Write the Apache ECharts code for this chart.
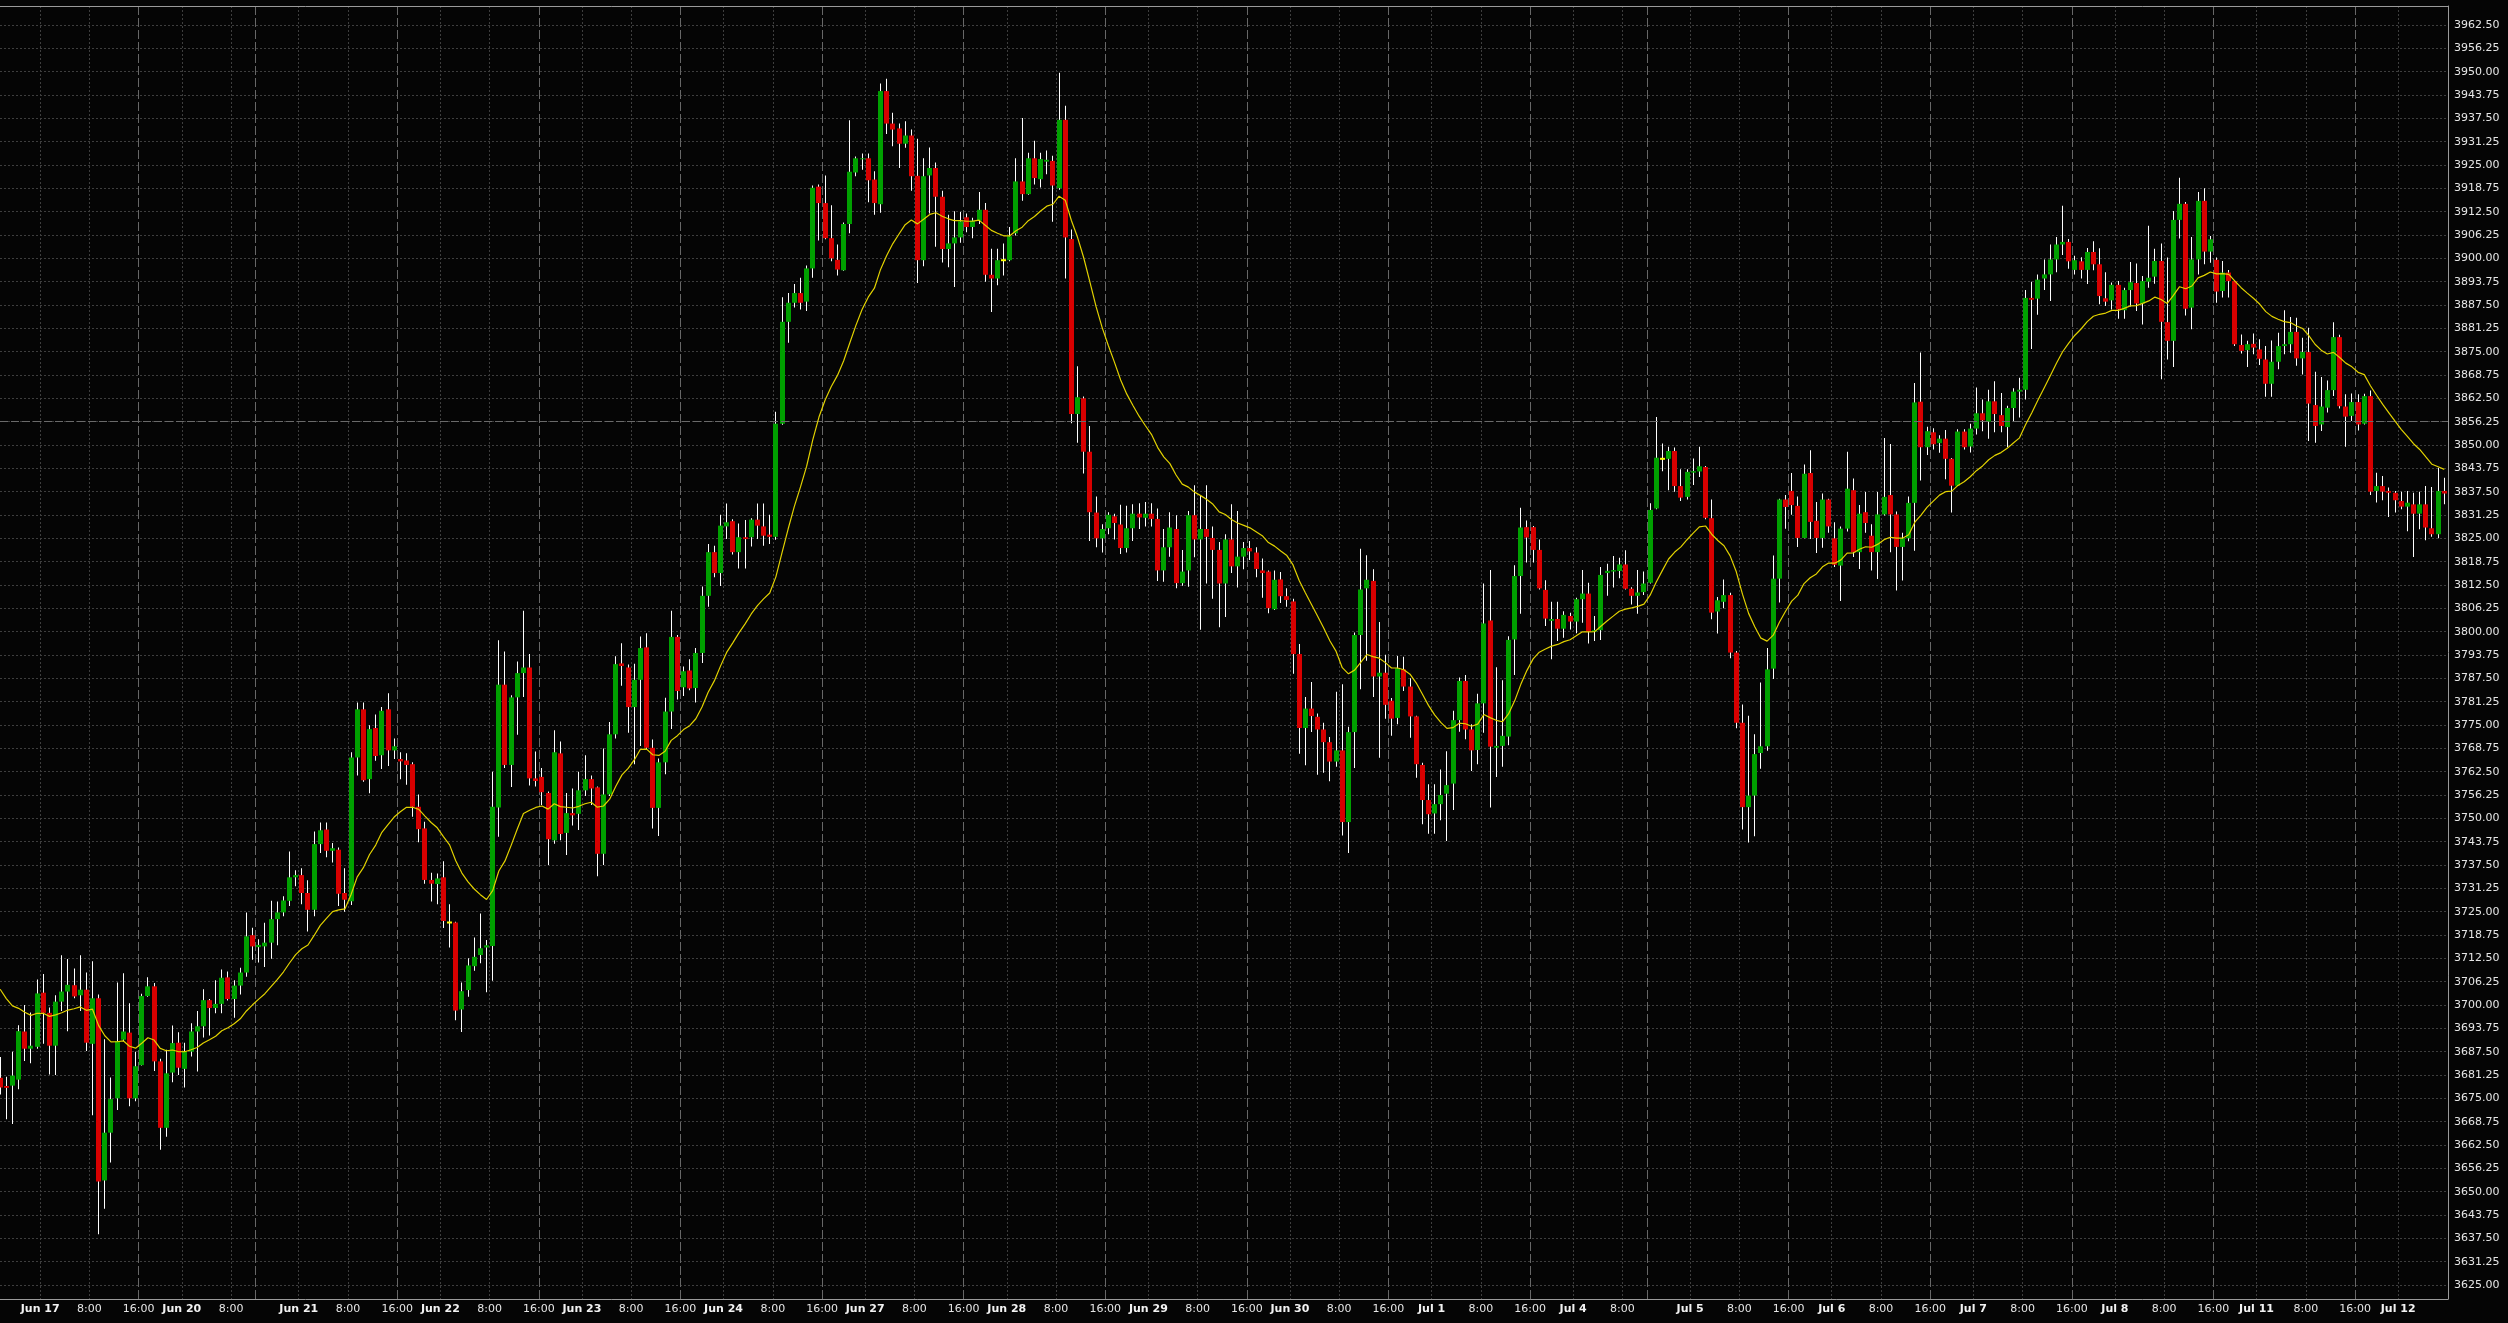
<!DOCTYPE html>
<html>
<head>
<meta charset="utf-8">
<script src="https://cdn.jsdelivr.net/npm/echarts@6/dist/echarts.min.js"></script>
<style>
html,body{margin:0;padding:0;background:#050505;}
#chart{width:2508px;height:1323px;}
</style>
</head>
<body>
<div id="chart"></div>
<script>
// ---- time axis: hourly bars, sessions open 17:00 the evening before each trading day ----
const tradingDays = ['Jun 17','Jun 20','Jun 21','Jun 22','Jun 23','Jun 24','Jun 27','Jun 28','Jun 29','Jun 30',
  'Jul 1','Jul 4','Jul 5','Jul 6','Jul 7','Jul 8','Jul 11','Jul 12'];
const earlyCloseDays = ['Jun 20','Jul 4'];   // halted at 12:00
const finalDayLastHour = 7;                  // chart ends with the 07:00 bar of the last day

// ---- OHLC values (one per hourly bar) ----
const opens = [
3680.5,3678.3,3678.4,3680.0,3692.9,3688.3,3688.8,3703.3,3697.9,3689.1,
3700.9,3703.6,3705.3,3702.6,3704.1,3689.6,3701.8,3653.0,3665.8,3675.0,
3690.7,3692.6,3675.0,3683.9,3702.4,3705.0,3684.9,3667.1,3681.9,3689.9,
3682.9,3687.5,3692.9,3694.3,3701.3,3699.2,3700.3,3707.4,3701.6,3705.2,
3708.7,3718.7,3715.5,3715.7,3716.7,3723.0,3724.8,3727.9,3734.2,3734.8,
3730.0,3725.5,3743.1,3747.0,3741.3,3741.6,3730.0,3727.8,3766.3,3779.2,
3760.5,3774.2,3766.9,3779.2,3768.2,3765.9,3765.5,3764.5,3753.1,3747.3,
3733.5,3732.4,3734.2,3722.1,3722.1,3698.8,3704.0,3710.4,3713.4,3715.4,
3715.8,3752.9,3785.8,3764.3,3782.4,3788.9,3790.4,3760.7,3761.1,3756.8,
3744.1,3767.4,3746.1,3751.4,3751.2,3757.5,3760.5,3758.3,3740.5,3756.4,
3772.5,3791.5,3790.4,3779.8,3787.1,3795.8,3768.9,3752.8,3765.0,3778.6,
3798.6,3785.1,3789.6,3784.9,3794.3,3809.6,3821.3,3815.7,3828.2,3829.6,
3821.3,3825.3,3825.3,3830.0,3828.2,3826.0,3825.4,3855.7,3883.0,3888.1,
3890.7,3888.4,3897.3,3919.2,3914.8,3905.4,3899.6,3896.8,3909.2,3923.0,
3926.6,3926.8,3921.1,3914.5,3944.8,3936.1,3934.8,3930.7,3932.9,3922.1,
3899.5,3922.2,3924.2,3916.5,3902.5,3904.0,3905.6,3911.0,3908.4,3910.1,
3913.0,3895.6,3894.6,3899.5,3899.5,3906.7,3920.6,3917.2,3926.8,3921.2,
3925.9,3926.1,3918.8,3937.1,3905.2,3858.3,3862.5,3848.2,3831.9,3825.0,
3827.7,3830.9,3828.7,3822.4,3827.7,3831.6,3830.5,3831.6,3830.2,3816.4,
3822.6,3827.5,3813.0,3816.4,3831.2,3824.7,3827.5,3825.1,3821.9,3812.9,
3824.7,3817.5,3820.1,3822.4,3821.2,3816.4,3816.1,3806.0,3814.0,3809.5,
3808.1,3794.0,3774.2,3779.4,3777.2,3773.8,3770.4,3765.2,3768.2,3749.0,
3773.1,3799.1,3811.6,3813.6,3788.0,3789.0,3781.5,3776.9,3789.9,3785.3,
3777.3,3764.3,3754.9,3751.3,3753.8,3756.6,3759.3,3776.3,3786.8,3773.8,
3768.3,3780.8,3803.0,3768.9,3769.4,3771.9,3797.9,3814.9,3828.0,3828.0,
3821.9,3811.2,3802.9,3803.4,3800.8,3804.2,3802.7,3808.7,3810.2,3800.0,
3800.4,3815.7,3816.1,3816.25,3818.0,3811.5,3809.6,3810.6,3813.1,3833.0,
3846.3,3846.3,3848.4,3839.0,3836.1,3842.6,3842.9,3844.1,3830.4,3805.4,
3808.0,3809.8,3794.4,3775.6,3753.0,3756.1,3767.5,3769.3,3790.1,3814.2,
3835.4,3837.7,3833.7,3825.1,3842.5,3829.7,3825.1,3835.4,3825.0,3817.7,
3827.6,3837.9,3821.3,3832.0,3825.7,3821.3,3831.4,3836.6,3831.4,3822.7,
3825.0,3834.5,3861.6,3849.4,3853.4,3850.5,3851.7,3846.3,3839.1,3853.6,
3849.6,3854.4,3858.5,3856.25,3861.7,3858.0,3854.8,3859.9,3864.3,3864.8,
3889.4,3889.2,3894.6,3895.7,3899.7,3903.7,3904.4,3896.9,3899.2,3896.9,
3901.7,3898.4,3889.3,3888.75,3892.9,3886.1,3891.5,3893.4,3887.9,3893.75,
3895.1,3899.3,3882.9,3877.9,3910.3,3914.6,3886.8,3899.7,3915.4,3901.8,
3899.6,3891.25,3896.2,3893.9,3876.8,3875.4,3877.1,3875.6,3872.9,3866.4,
3872.3,3876.5,3877.0,3880.3,3873.2,3874.9,3860.7,3855.5,3860.0,3864.7,
3878.9,3860.3,3857.8,3861.5,3855.7,3863.1,3837.7,3839.0,3837.7,3837.2,
3835.0,3833.5,3834.1,3831.6,3834.1,3827.7,3826.1,3837.7
];
const highs = [
3686.1,3680.8,3687.5,3694.6,3700.0,3698.0,3706.8,3708.3,3699.3,3702.6,
3713.3,3712.3,3709.8,3713.3,3708.7,3711.7,3702.8,3690.8,3680.6,3706.0,
3708.5,3700.5,3687.5,3703.0,3707.4,3705.9,3685.6,3688.0,3694.5,3692.7,
3689.9,3695.1,3698.4,3704.2,3701.6,3706.6,3709.5,3709.0,3706.6,3710.0,
3724.8,3720.7,3717.6,3722.0,3727.9,3727.7,3729.1,3741.1,3736.1,3736.6,
3733.4,3746.5,3748.9,3748.9,3743.4,3742.2,3736.6,3767.7,3781.0,3781.0,
3774.9,3777.8,3779.8,3783.5,3771.4,3767.7,3767.4,3765.0,3756.4,3749.1,
3735.4,3735.2,3738.5,3727.0,3722.3,3706.0,3712.5,3718.1,3724.5,3717.4,
3762.5,3797.7,3794.7,3783.0,3792.0,3805.6,3794.0,3767.9,3763.5,3757.2,
3773.6,3770.6,3756.8,3758.0,3762.5,3766.9,3761.5,3758.5,3768.7,3775.8,
3793.4,3796.9,3791.2,3791.4,3798.7,3799.6,3771.1,3766.0,3782.3,3805.6,
3799.1,3790.7,3792.6,3795.6,3812.1,3823.5,3823.0,3831.3,3834.3,3830.1,
3829.0,3829.9,3830.4,3834.3,3834.3,3831.3,3858.9,3889.6,3890.7,3893.1,
3894.8,3898.1,3919.5,3919.8,3922.2,3914.2,3903.7,3909.6,3937.0,3927.3,
3928.1,3928.1,3923.3,3946.8,3948.1,3939.0,3936.1,3936.7,3934.5,3932.0,
3926.8,3929.7,3925.7,3918.1,3911.7,3912.6,3912.4,3912.0,3910.9,3917.8,
3914.8,3902.6,3902.6,3904.0,3908.4,3926.8,3937.6,3928.3,3931.5,3928.3,
3928.9,3927.5,3949.7,3940.9,3907.7,3871.1,3863.0,3855.1,3836.2,3828.8,
3832.0,3831.6,3834.0,3833.7,3834.1,3834.4,3834.7,3834.4,3833.0,3827.5,
3832.0,3831.2,3821.9,3832.3,3839.2,3836.5,3839.2,3828.2,3824.0,3826.1,
3834.1,3832.3,3824.0,3824.3,3822.6,3819.6,3816.4,3816.4,3816.0,3811.6,
3808.8,3796.7,3782.5,3786.5,3778.1,3775.6,3771.8,3783.9,3785.9,3774.5,
3799.8,3822.2,3820.5,3816.7,3802.6,3793.8,3782.2,3793.5,3793.3,3787.5,
3777.5,3764.9,3759.1,3759.1,3763.1,3768.0,3778.8,3787.7,3788.4,3775.2,
3783.4,3812.9,3816.5,3790.5,3787.0,3798.8,3817.8,3833.2,3829.8,3828.3,
3824.7,3813.8,3808.0,3808.0,3805.5,3805.1,3809.1,3816.5,3813.1,3804.2,
3817.3,3818.2,3820.3,3819.8,3821.8,3811.9,3816.5,3816.1,3834.4,3857.5,
3850.4,3849.5,3849.3,3843.5,3843.5,3846.4,3849.5,3844.4,3835.4,3809.3,
3814.0,3810.4,3794.8,3780.5,3777.5,3772.5,3786.4,3795.6,3820.4,3835.6,
3836.6,3842.5,3836.2,3844.8,3848.6,3834.7,3837.0,3835.6,3829.3,3828.2,
3848.2,3841.0,3833.9,3837.4,3828.8,3837.4,3851.9,3850.3,3832.2,3826.5,
3836.2,3866.6,3874.8,3854.9,3854.5,3852.6,3854.0,3846.5,3854.2,3854.2,
3855.7,3865.4,3862.2,3864.8,3867.1,3863.9,3860.5,3865.2,3868.0,3891.5,
3893.7,3895.7,3899.7,3903.7,3905.7,3914.1,3905.2,3900.7,3900.3,3902.8,
3904.6,3902.7,3896.3,3893.5,3893.9,3892.1,3899.0,3898.6,3895.3,3908.7,
3902.6,3904.0,3900.2,3912.7,3921.6,3915.1,3905.7,3917.8,3918.75,3906.0,
3900.2,3899.3,3896.9,3894.1,3879.6,3877.9,3879.9,3878.3,3876.5,3878.0,
3880.1,3886.1,3884.3,3884.1,3878.75,3881.4,3869.6,3868.2,3867.3,3882.9,
3879.5,3863.6,3863.8,3863.6,3863.75,3864.6,3842.6,3841.7,3838.6,3837.7,
3837.5,3837.7,3837.2,3837.5,3839.0,3838.75,3843.9,3841.25
];
const lows = [
3676.0,3669.4,3668.1,3677.4,3685.0,3684.4,3688.3,3689.6,3681.4,3681.25,
3698.4,3693.0,3701.8,3698.4,3687.7,3670.5,3638.6,3645.4,3657.8,3671.9,
3690.3,3672.9,3674.2,3683.8,3702.2,3682.3,3661.2,3664.7,3679.3,3681.25,
3677.9,3686.2,3682.2,3691.3,3691.8,3697.8,3697.8,3701.2,3696.6,3702.8,
3707.6,3712.1,3711.4,3710.2,3712.4,3716.0,3723.8,3726.5,3731.8,3727.0,
3719.7,3723.8,3740.7,3739.6,3738.2,3726.5,3725.0,3726.8,3761.5,3759.8,
3756.7,3765.4,3763.2,3764.0,3765.9,3760.5,3759.0,3750.4,3743.6,3732.5,
3727.7,3727.0,3720.6,3715.4,3695.9,3692.8,3702.2,3709.2,3711.2,3703.4,
3706.5,3745.1,3763.5,3758.4,3772.4,3782.5,3758.8,3758.5,3753.6,3737.5,
3743.2,3744.1,3740.2,3748.1,3746.9,3756.0,3753.6,3734.5,3737.5,3756.0,
3771.4,3785.5,3772.9,3764.5,3769.4,3768.4,3747.3,3745.3,3761.8,3773.9,
3781.8,3782.8,3784.3,3781.0,3791.6,3806.7,3814.6,3812.2,3824.8,3820.7,
3816.9,3816.9,3822.8,3824.8,3823.0,3823.5,3824.6,3855.4,3877.4,3886.8,
3886.3,3885.9,3894.8,3904.8,3905.1,3899.2,3895.4,3896.7,3906.7,3922.0,
3923.7,3915.0,3911.7,3912.2,3933.3,3930.0,3924.2,3929.6,3918.1,3893.4,
3897.9,3912.0,3903.1,3898.9,3897.6,3892.3,3904.2,3907.0,3905.4,3909.2,
3893.7,3885.6,3892.8,3895.4,3899.2,3906.1,3915.4,3917.0,3919.8,3919.0,
3922.5,3909.8,3918.4,3894.6,3855.8,3850.6,3842.4,3824.3,3822.6,3821.2,
3826.1,3824.7,3820.8,3821.2,3824.3,3827.5,3828.2,3828.2,3813.6,3813.4,
3820.1,3811.6,3812.3,3812.0,3819.9,3800.5,3812.9,3808.8,3801.2,3803.9,
3815.7,3811.8,3816.7,3819.2,3814.6,3809.1,3804.9,3805.8,3807.7,3806.7,
3788.7,3767.3,3764.2,3773.1,3761.7,3762.2,3759.9,3763.8,3745.4,3740.7,
3763.5,3784.6,3792.2,3782.5,3766.2,3776.7,3772.1,3775.2,3784.1,3771.6,
3760.9,3748.4,3745.9,3745.9,3749.5,3743.9,3752.2,3773.2,3771.2,3762.7,
3764.5,3772.9,3752.9,3761.1,3763.8,3769.6,3788.4,3804.8,3818.5,3818.5,
3811.3,3801.5,3792.6,3797.5,3798.4,3800.6,3799.6,3802.4,3796.8,3797.5,
3797.8,3809.6,3811.8,3814.3,3811.3,3807.3,3804.8,3809.8,3812.9,3832.8,
3843.0,3837.9,3837.5,3835.0,3835.4,3839.3,3841.4,3830.1,3803.3,3799.5,
3806.25,3792.9,3774.1,3747.0,3743.5,3745.2,3763.3,3768.1,3787.3,3807.8,
3827.6,3831.3,3822.7,3825.0,3824.8,3821.1,3822.5,3826.5,3817.3,3808.2,
3826.8,3820.0,3816.8,3826.5,3816.4,3814.1,3831.1,3821.3,3811.0,3813.7,
3824.2,3821.7,3840.5,3847.3,3848.8,3847.9,3840.8,3831.9,3839.0,3848.8,
3848.0,3852.8,3853.7,3851.7,3853.4,3853.4,3849.4,3856.25,3857.4,3862.2,
3875.7,3884.9,3891.5,3888.6,3896.3,3900.9,3897.2,3895.7,3894.6,3893.1,
3896.8,3887.7,3887.2,3886.3,3883.8,3883.8,3887.1,3885.9,3882.3,3892.1,
3893.2,3867.6,3872.9,3870.9,3905.3,3884.7,3881.0,3895.7,3898.4,3898.8,
3888.1,3889.5,3889.5,3876.5,3874.5,3870.9,3874.3,3871.4,3862.9,3862.9,
3870.3,3874.3,3874.7,3871.2,3868.9,3851.1,3850.6,3853.75,3858.7,3863.1,
3859.8,3849.5,3856.4,3853.9,3855.5,3836.6,3834.6,3835.2,3830.7,3831.9,
3832.8,3826.9,3820.0,3827.4,3824.5,3825.4,3825.0,3834.1
];
const closes = [
3677.9,3677.8,3681.1,3693.0,3688.3,3689.1,3703.1,3697.9,3689.1,3700.9,
3703.6,3705.4,3702.3,3704.1,3689.9,3701.8,3652.7,3665.8,3674.8,3690.3,
3692.9,3675.0,3683.6,3702.4,3705.0,3684.9,3667.1,3681.7,3689.8,3683.2,
3687.5,3692.9,3694.3,3701.3,3699.2,3700.3,3707.3,3701.6,3705.2,3708.7,
3718.4,3715.7,3716.1,3716.7,3723.0,3724.8,3728.0,3734.2,3734.8,3730.0,
3725.5,3743.1,3746.8,3741.3,3742.0,3729.8,3728.2,3766.3,3779.2,3760.2,
3773.9,3766.7,3778.8,3768.2,3769.3,3765.25,3764.3,3753.1,3747.1,3733.5,
3732.5,3733.9,3722.5,3722.1,3698.5,3703.7,3710.6,3712.9,3715.2,3716.0,
3753.1,3785.8,3764.3,3782.4,3788.9,3790.4,3760.7,3760.0,3757.0,3744.4,
3767.7,3745.8,3751.4,3750.8,3757.5,3760.5,3758.0,3740.5,3756.4,3772.5,
3791.3,3790.8,3779.8,3787.1,3795.6,3768.9,3752.8,3765.0,3778.6,3798.6,
3784.1,3789.4,3784.8,3794.3,3809.6,3821.3,3815.7,3828.4,3829.3,3821.3,
3825.3,3824.8,3830.0,3828.4,3825.7,3825.4,3855.7,3883.0,3888.1,3890.7,
3888.1,3897.3,3918.9,3914.8,3905.4,3900.0,3897.0,3909.2,3923.2,3926.8,
3926.8,3920.9,3914.8,3944.8,3936.1,3934.5,3930.7,3932.9,3922.0,3899.5,
3922.0,3924.2,3916.5,3902.5,3904.0,3905.6,3909.9,3908.4,3910.1,3913.0,
3895.6,3894.6,3899.5,3899.5,3905.9,3920.6,3917.2,3926.8,3921.5,3926.6,
3926.4,3919.5,3937.1,3905.6,3858.3,3862.8,3848.2,3832.0,3825.0,3827.5,
3831.3,3829.1,3822.4,3827.7,3831.6,3830.6,3831.6,3830.2,3816.4,3822.6,
3827.9,3813.0,3816.1,3831.2,3824.7,3827.5,3825.4,3821.9,3812.9,3824.7,
3817.5,3820.1,3822.4,3821.5,3816.8,3815.7,3806.3,3813.9,3809.5,3808.5,
3794.0,3774.2,3779.4,3777.4,3773.8,3770.4,3765.2,3768.2,3749.0,3773.1,
3799.1,3811.3,3813.9,3788.0,3789.0,3780.4,3776.7,3790.2,3785.3,3777.3,
3764.5,3754.9,3751.1,3753.8,3756.25,3758.9,3776.3,3786.8,3773.8,3768.2,
3780.8,3802.2,3769.2,3769.4,3772.1,3797.8,3814.9,3827.9,3825.2,3821.9,
3811.6,3803.5,3803.4,3800.8,3804.5,3802.7,3808.7,3810.2,3800.0,3800.4,
3815.2,3816.3,3816.5,3818.0,3811.5,3809.6,3810.5,3812.9,3832.6,3846.6,
3846.3,3848.4,3839.0,3835.9,3842.8,3843.0,3844.3,3830.5,3805.1,3808.4,
3809.8,3794.4,3775.6,3753.0,3756.1,3767.2,3769.3,3789.9,3814.2,3835.4,
3833.4,3833.9,3825.1,3842.3,3829.4,3825.1,3835.4,3828.2,3817.9,3827.6,
3838.3,3821.3,3831.6,3829.1,3821.3,3831.4,3836.1,3831.4,3822.7,3825.0,
3834.5,3861.4,3849.4,3853.7,3850.2,3851.7,3846.3,3839.1,3853.6,3849.4,
3854.4,3858.5,3856.6,3861.7,3858.3,3855.1,3859.9,3864.3,3864.8,3889.4,
3888.9,3894.3,3895.7,3899.7,3903.7,3904.4,3899.2,3899.5,3896.9,3901.7,
3898.4,3889.9,3888.4,3892.9,3886.3,3891.5,3893.6,3887.9,3893.9,3894.8,
3899.3,3883.0,3877.9,3910.3,3914.6,3886.5,3899.7,3915.4,3901.8,3905.1,
3891.1,3896.2,3893.9,3877.0,3875.2,3877.0,3876.1,3873.1,3866.4,3872.3,
3876.5,3877.0,3880.3,3873.2,3874.9,3861.1,3855.1,3860.3,3864.7,3878.9,
3860.4,3857.6,3861.5,3855.5,3863.1,3837.5,3839.0,3837.5,3837.2,3835.2,
3833.5,3834.55,3831.6,3834.1,3827.9,3826.1,3837.7,3837.0
];

// moving average (EMA of closes) and its level entering the chart at the left edge
const maPeriod = 20;
const maLeftEdge = 3707;
// highlighted price level (dashed horizontal line)
const markedPrice = 3856.25;
// price tick labels on the right axis
const priceTickStart = 3625, priceTickStep = 6.25, priceTickCount = 55;
const priceTicks = Array.from({length: priceTickCount}, (_, i) => priceTickStart + priceTickStep * i);

// ---- build the hourly timeline ----
const monthNames = ['Jan','Feb','Mar','Apr','May','Jun','Jul','Aug','Sep','Oct','Nov','Dec'];
const bars = [];
tradingDays.forEach((day, j) => {
  const parts = day.split(' ');
  const m = monthNames.indexOf(parts[0]);
  const eve = new Date(2022, m, +parts[1] - 1);
  const eveName = monthNames[eve.getMonth()] + ' ' + eve.getDate();
  for (let h = 17; h <= 23; h++) bars.push({day: eveName, h: h, sessionEnd: false});
  const isLast = j === tradingDays.length - 1;
  const lastHour = isLast ? finalDayLastHour : (earlyCloseDays.indexOf(day) >= 0 ? 11 : 15);
  for (let h = 0; h <= lastHour; h++) bars.push({day: day, h: h, sessionEnd: !isLast && h === lastHour});
});
const categories = bars.map(b => b.day + ' ' + String(b.h).padStart(2, '0') + ':00');
if ([opens, highs, lows, closes].some(a => a.length !== bars.length)) {
  throw new Error('length mismatch: bars ' + bars.length + ' o ' + opens.length + ' h ' + highs.length + ' l ' + lows.length + ' c ' + closes.length);
}

// labels (at bar boundaries) and grid lines
const labelText = {};
const labelValues = [];
const dottedLines = [];
const sessionLines = [];
bars.forEach((b, i) => {
  if (b.h === 0) { labelText[i - 0.5] = '{d|' + b.day + '}'; labelValues.push(i - 0.5); dottedLines.push(i - 0.5); }
  if (b.h === 8) { labelText[i - 0.5] = '{t|8:00}'; labelValues.push(i - 0.5); dottedLines.push(i - 0.5); }
  if (b.sessionEnd) {
    sessionLines.push(i + 0.5);
    if (b.h === 15) { labelText[i + 0.5] = '{t|16:00}'; labelValues.push(i + 0.5); }
  }
});

// EMA
const alpha = 2 / (maPeriod + 1);
const ma = [];
let prev = maLeftEdge;
closes.forEach(c => { prev = prev + alpha * (c - prev); ma.push(+prev.toFixed(2)); });

const UP = '#00a000', DOWN = '#d80000', DOJI = '#ffff00', WICK = '#ffffff';
const xMin = -0.025, xMax = 397.6;
const gridColor = '#3e3e3e', axisColor = '#9a9a9a';

const chart = echarts.init(document.getElementById('chart'), null, {renderer: 'canvas'});
chart.setOption({
  backgroundColor: '#050505',
  animation: false,
  grid: {left: 0, right: 60, top: 6, bottom: 24, containLabel: false, outerBoundsMode: 'none'},
  xAxis: [
    {
      type: 'value', position: 'bottom', min: xMin, max: xMax,
      axisLine: {show: true, onZero: false, lineStyle: {color: axisColor, width: 1}},
      axisTick: {show: false, customValues: dottedLines},
      axisLabel: {
        customValues: labelValues, hideOverlap: false, margin: 4,
        formatter: v => labelText[v] || '',
        rich: {
          d: {fontFamily: 'DejaVu Sans', fontWeight: 'bold', fontSize: 11, color: '#f2f2f2', lineHeight: 13},
          t: {fontFamily: 'DejaVu Sans', fontSize: 11, color: '#e6e6e6', lineHeight: 13}
        }
      },
      splitLine: {show: true, lineStyle: {color: gridColor, width: 1, type: [2, 2]}}
    },
    {
      type: 'value', position: 'top', min: xMin, max: xMax,
      axisLine: {show: true, onZero: false, lineStyle: {color: axisColor, width: 1}},
      axisTick: {show: false, customValues: sessionLines},
      axisLabel: {show: false},
      splitLine: {show: true, lineStyle: {color: '#676767', width: 1, type: [9, 3]}}
    }
  ],
  yAxis: {
    type: 'value', position: 'right', min: 3621.25, max: 3967.59, scale: true,
    axisLine: {show: true, onZero: false, lineStyle: {color: axisColor, width: 1}},
    axisTick: {show: false, customValues: priceTicks},
    axisLabel: {
      customValues: priceTicks, hideOverlap: false, margin: 6,
      formatter: v => Number(v).toFixed(2),
      fontFamily: 'DejaVu Sans', fontSize: 11, color: '#e6e6e6'
    },
    splitLine: {show: true, lineStyle: {color: gridColor, width: 1, type: [2, 2]}}
  },
  series: [
    {
      type: 'custom', name: 'price', xAxisIndex: 0, yAxisIndex: 0, clip: true, z: 3,
      data: opens.map((o, i) => ({name: categories[i], value: [i, o, closes[i], lows[i], highs[i]]})),
      encode: {x: 0, y: [1, 2, 3, 4]},
      renderItem: function (params, api) {
        const i = api.value(0), o = api.value(1), c = api.value(2), l = api.value(3), h = api.value(4);
        const pO = api.coord([i, o]), pC = api.coord([i, c]), pL = api.coord([i, l]), pH = api.coord([i, h]);
        const bw = 5;
        const left = Math.round(pO[0] - bw / 2);
        let top = Math.min(pO[1], pC[1]);
        let ht = Math.abs(pO[1] - pC[1]);
        const color = c > o ? UP : (c < o ? DOWN : DOJI);
        if (c === o) { top = pO[1] - 1; ht = 2; }
        if (ht < 1) { ht = 1; }
        return {
          type: 'group',
          children: [
            {type: 'rect', shape: {x: left + 2, y: pH[1], width: 1, height: Math.max(1, pL[1] - pH[1])}, style: {fill: WICK}},
            {type: 'rect', shape: {x: left, y: top, width: bw, height: ht}, style: {fill: color}}
          ]
        };
      },
      markLine: {
        silent: true, symbol: ['none', 'none'], label: {show: false}, animation: false,
        lineStyle: {color: '#6a6a6a', width: 1, type: [8, 3]},
        data: [{yAxis: markedPrice}]
      }
    },
    {
      type: 'line', name: 'EMA ' + maPeriod, xAxisIndex: 0, yAxisIndex: 0, z: 6,
      data: ma.map((v, i) => [i, v]), showSymbol: false, symbol: 'none', silent: true, clip: true,
      lineStyle: {color: '#e2d200', width: 1.2}
    }
  ]
});
</script>
</body>
</html>
